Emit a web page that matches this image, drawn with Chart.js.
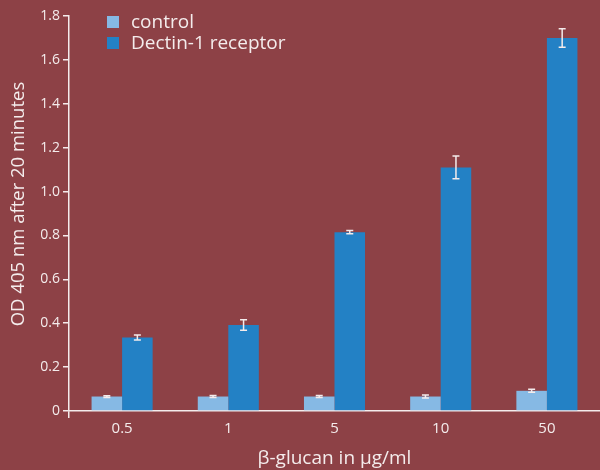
<!DOCTYPE html>
<html>
<head>
<meta charset="utf-8">
<script src="https://cdn.jsdelivr.net/npm/chart.js@4"></script>
<style>
  html, body { margin: 0; padding: 0; background: #8d4146; }
  #wrap { width: 600px; height: 470px; position: relative; }
</style>
</head>
<body>
<div id="wrap"><canvas id="chart"></canvas></div>
<script>
// values
const doses = ["0.5", "1", "5", "10", "50"];
const controlValues = [0.066, 0.066, 0.066, 0.066, 0.092];
const controlErrors = [0.004, 0.005, 0.005, 0.007, 0.007];
const dectinValues = [0.335, 0.392, 0.815, 1.11, 1.70];
const dectinErrors = [0.011, 0.024, 0.007, 0.052, 0.042];
const errors = [controlErrors, dectinErrors];

const white = "#f4ecec";
const font = "'Open Sans', 'Noto Sans', sans-serif";
const yTitle = "OD 405 nm after 20 minutes";

// little I-shaped error bars on top of each bar
const errorBars = {
  id: "errorBars",
  afterDatasetsDraw(chart) {
    const ctx = chart.ctx;
    const y = chart.scales.y;
    ctx.save();
    ctx.strokeStyle = white;
    ctx.lineWidth = 1.5;
    chart.data.datasets.forEach((ds, i) => {
      chart.getDatasetMeta(i).data.forEach((bar, j) => {
        const v = ds.data[j], e = errors[i][j];
        const top = y.getPixelForValue(v + e);
        const bot = y.getPixelForValue(v - e);
        ctx.beginPath();
        ctx.moveTo(bar.x, top); ctx.lineTo(bar.x, bot);
        ctx.moveTo(bar.x - 3.5, top); ctx.lineTo(bar.x + 3.5, top);
        ctx.moveTo(bar.x - 3.5, bot); ctx.lineTo(bar.x + 3.5, bot);
        ctx.stroke();
      });
    });
    ctx.restore();
  }
};

// stacked legend in the top left + the y title (sits a bit above centre)
const extras = {
  id: "extras",
  afterDraw(chart) {
    const ctx = chart.ctx;
    ctx.save();
    ctx.font = "19px " + font;
    ctx.textBaseline = "middle";
    chart.data.datasets.forEach((ds, i) => {
      const cy = 22 + i * 21;
      ctx.fillStyle = ds.backgroundColor;
      ctx.fillRect(107, cy - 6, 12, 12);
      ctx.fillStyle = white;
      ctx.fillText(ds.label, 131, cy + 1);
    });
    ctx.translate(19, 204);
    ctx.rotate(-Math.PI / 2);
    ctx.textAlign = "center";
    ctx.font = "18.5px " + font;
    ctx.fillText(yTitle, 0, 0);
    ctx.restore();
  }
};

new Chart(document.getElementById("chart"), {
  type: "bar",
  data: {
    labels: doses,
    datasets: [
      { label: "control", data: controlValues, backgroundColor: "#86b9e4" },
      { label: "Dectin-1 receptor", data: dectinValues, backgroundColor: "#2381c5" }
    ]
  },
  options: {
    responsive: true,
    maintainAspectRatio: false,
    animation: false,
    layout: { padding: { top: 16, right: 0, left: 0, bottom: 0 } },
    datasets: { bar: { barPercentage: 1, categoryPercentage: 0.575 } },
    plugins: { legend: { display: false }, tooltip: { enabled: false } },
    scales: {
      x: {
        border: { color: white, width: 1.5 },
        grid: {
          offset: true,
          drawOnChartArea: false,
          tickLength: 7,
          lineWidth: 1.5,
          color: (c) => c.index === 0 ? white : "rgba(0,0,0,0)"
        },
        ticks: { color: white, font: { family: font, size: 15 }, padding: 2 },
        title: {
          display: true,
          text: "β-glucan in μg/ml",
          color: white,
          font: { family: font, size: 19 },
          padding: { top: 0, bottom: 0 }
        },
        afterFit: (s) => { s.height = 59; }
      },
      y: {
        min: 0,
        max: 1.8,
        border: { color: white, width: 1.5 },
        grid: { drawOnChartArea: false, tickLength: 6, color: white, lineWidth: 1.5 },
        ticks: {
          stepSize: 0.2,
          color: white,
          padding: 3,
          font: { family: font, size: 14 },
          callback: (v) => v === 0 ? "0" : v.toFixed(1)
        },
        afterFit: (s) => { s.width = 69; }
      }
    }
  },
  plugins: [errorBars, extras]
});
</script>
</body>
</html>
